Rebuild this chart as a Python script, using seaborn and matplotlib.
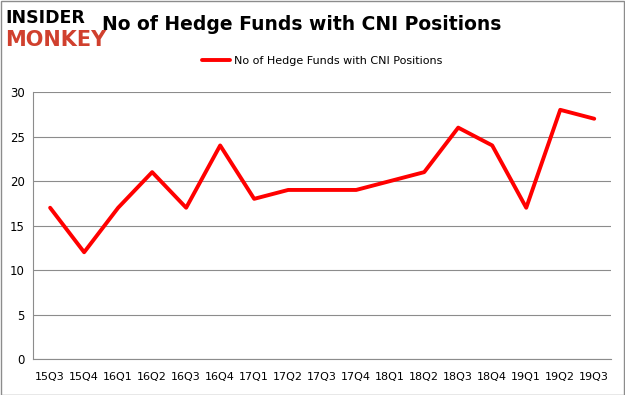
import numpy as np
import pandas as pd
import matplotlib.pyplot as plt
import seaborn as sns
from matplotlib.patches import Rectangle

quarters = ["15Q3", "15Q4", "16Q1", "16Q2", "16Q3", "16Q4", "17Q1", "17Q2", "17Q3",
            "17Q4", "18Q1", "18Q2", "18Q3", "18Q4", "19Q1", "19Q2", "19Q3"]
funds = [17, 12, 17, 21, 17, 24, 18, 19, 19, 19, 20, 21, 26, 24, 17, 28, 27]
series_name = "No of Hedge Funds with CNI Positions"

sns.set_style("white")
plt.rcParams['font.family'] = ['DejaVu Sans']
plt.rcParams['text.color'] = 'black'
plt.rcParams['xtick.color'] = 'black'
plt.rcParams['ytick.color'] = 'black'

df = pd.DataFrame({"x": np.arange(len(quarters)), "y": funds})

fig = plt.figure(figsize=(6.25, 3.95), dpi=100)
ax = fig.add_axes([0.053, 0.091, 0.925, 0.676])

sns.lineplot(data=df, x="x", y="y", ax=ax, color="#ff0000", linewidth=2.8,
             label=series_name)

ax.set_xlim(-0.5, len(quarters) - 0.5)
ax.set_ylim(0, 30)
ax.set_yticks(range(0, 31, 5))
ax.set_xticks(range(len(quarters)))
ax.set_xticklabels(quarters, fontsize=8)
ax.set_xticks(np.arange(-0.5, len(quarters), 1), minor=True)
ax.tick_params(axis="x", which="major", length=0, pad=9)
ax.tick_params(axis="x", which="minor", length=4, color="#888888", width=0.8, direction="out")
ax.tick_params(axis="y", length=0, labelsize=8.5, pad=6)
ax.set_xlabel("")
ax.set_ylabel("")
ax.yaxis.grid(True, color="#8c8c8c", linewidth=0.8)
for s in ["top", "right"]:
    ax.spines[s].set_visible(False)
for s in ["left", "bottom"]:
    ax.spines[s].set_color("#8c8c8c")
    ax.spines[s].set_linewidth(0.8)

leg = ax.legend(loc="center", bbox_to_anchor=(0.5, 1.117), frameon=False,
                fontsize=8, handlelength=2.5, handletextpad=0.3)

fig.text(0.483, 0.937, series_name, ha="center", va="center", fontsize=13.5,
         fontweight="bold")
fig.text(0.008, 0.955, "INSIDER", ha="left", va="center", fontsize=12.5,
         fontweight="bold", color="black")
fig.text(0.008, 0.898, "MONKEY", ha="left", va="center", fontsize=15,
         fontweight="bold", color="#d0402e")

fig.patches.append(Rectangle((0.001, 0.001), 0.997, 0.997, transform=fig.transFigure,
                             fill=False, edgecolor="#8c8c8c", linewidth=1))

fig.savefig("out.png", dpi=100)
